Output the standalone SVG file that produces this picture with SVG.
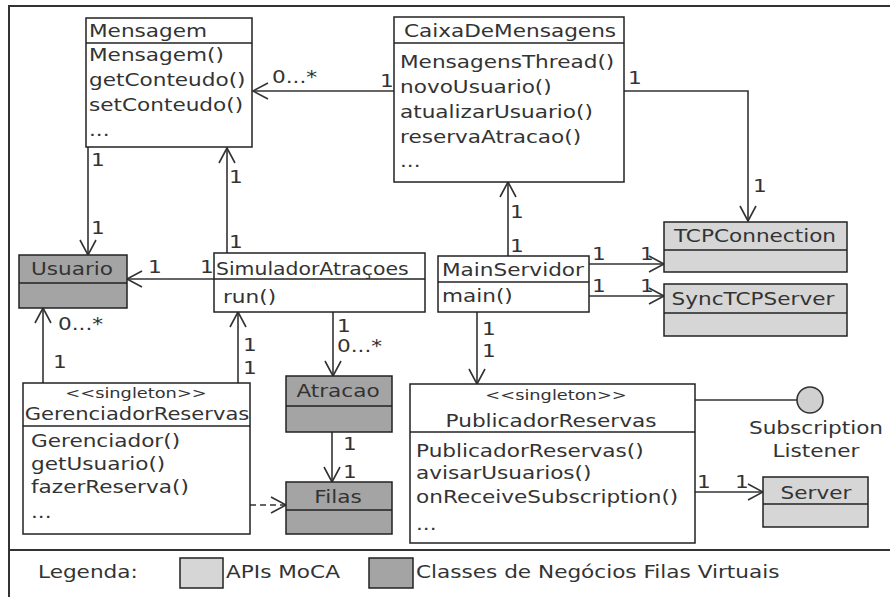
<svg xmlns="http://www.w3.org/2000/svg" width="890" height="597" viewBox="0 0 890 597">
<defs>
<style>
.t{font-family:"DejaVu Sans",Verdana,sans-serif;font-size:17px;fill:#333}
.s{font-size:14px}
.m{text-anchor:middle}
.box{fill:#fff;stroke:#222;stroke-width:1.5}
.api{fill:#d6d6d6}
.biz{fill:#a4a4a4}
.sep{stroke:#222;stroke-width:1.5}
.c{fill:none;stroke:#333;stroke-width:1.6}
.a{marker-end:url(#arr)}
.d{stroke-dasharray:6 4}
</style>
<marker id="arr" viewBox="-17 -10 20 20" refX="0" refY="0" markerWidth="20" markerHeight="20" orient="auto" markerUnits="userSpaceOnUse">
<path d="M-15,-8 L0,0 L-15,8" fill="none" stroke="#333" stroke-width="1.6"/>
</marker>
</defs>
<rect x="0" y="0" width="890" height="597" fill="#fff"/>
<rect x="9" y="6" width="895" height="600" fill="none" stroke="#333" stroke-width="2"/>

<g id="connectors">
<path class="c a" d="M394,91 L253,91"/>
<path class="c a" d="M624,91 L748,91 L748,221"/>
<path class="c a" d="M88,147 L88,255"/>
<path class="c a" d="M227,253 L227,148"/>
<path class="c a" d="M214,279 L127,279"/>
<path class="c a" d="M43,383 L43,308"/>
<path class="c a" d="M238,383 L238,312"/>
<path class="c a" d="M333,312 L333,376"/>
<path class="c a" d="M332,432 L332,482"/>
<path class="c a d" d="M250,505 L286,505"/>
<path class="c a" d="M508,256 L508,182"/>
<path class="c a" d="M589,264 L664,264"/>
<path class="c a" d="M589,296 L664,296"/>
<path class="c a" d="M477,312 L477,384"/>
<path class="c a" d="M695,492 L763,492"/>
<path class="c" d="M695,400 L797,400"/>
<g id="multiplicities">
<text class="t" transform="matrix(1.27 0 0 1 272 83)">0...*</text>
<text class="t" transform="matrix(1.27 0 0 1 380 87)">1</text>
<text class="t" transform="matrix(1.27 0 0 1 628 84)">1</text>
<text class="t" transform="matrix(1.27 0 0 1 753 192)">1</text>
<text class="t" transform="matrix(1.27 0 0 1 91 166)">1</text>
<text class="t" transform="matrix(1.27 0 0 1 91 234)">1</text>
<text class="t" transform="matrix(1.27 0 0 1 229 183)">1</text>
<text class="t" transform="matrix(1.27 0 0 1 229 248)">1</text>
<text class="t" transform="matrix(1.27 0 0 1 148 273)">1</text>
<text class="t" transform="matrix(1.27 0 0 1 200 273)">1</text>
<text class="t" transform="matrix(1.27 0 0 1 58 330)">0...*</text>
<text class="t" transform="matrix(1.27 0 0 1 53 368)">1</text>
<text class="t" transform="matrix(1.27 0 0 1 243 351)">1</text>
<text class="t" transform="matrix(1.27 0 0 1 243 374)">1</text>
<text class="t" transform="matrix(1.27 0 0 1 337 332)">1</text>
<text class="t" transform="matrix(1.27 0 0 1 337 352)">0...*</text>
<text class="t" transform="matrix(1.27 0 0 1 343 450)">1</text>
<text class="t" transform="matrix(1.27 0 0 1 343 478)">1</text>
<text class="t" transform="matrix(1.27 0 0 1 510 218)">1</text>
<text class="t" transform="matrix(1.27 0 0 1 510 252)">1</text>
<text class="t" transform="matrix(1.27 0 0 1 592 260)">1</text>
<text class="t" transform="matrix(1.27 0 0 1 640 260)">1</text>
<text class="t" transform="matrix(1.27 0 0 1 592 292)">1</text>
<text class="t" transform="matrix(1.27 0 0 1 640 292)">1</text>
<text class="t" transform="matrix(1.27 0 0 1 482 335)">1</text>
<text class="t" transform="matrix(1.27 0 0 1 482 357)">1</text>
<text class="t" transform="matrix(1.27 0 0 1 697 488)">1</text>
<text class="t" transform="matrix(1.27 0 0 1 735 488)">1</text>
</g>
</g>

<g id="Mensagem">
<rect class="box" x="86" y="18" width="166" height="129"/>
<line class="sep" x1="86" y1="43" x2="252" y2="43"/>
<text class="t" transform="matrix(1.27 0 0 1 89 37)">Mensagem</text>
<text class="t" transform="matrix(1.27 0 0 1 89 61)">Mensagem()</text>
<text class="t" transform="matrix(1.27 0 0 1 89 86)">getConteudo()</text>
<text class="t" transform="matrix(1.27 0 0 1 89 111)">setConteudo()</text>
<text class="t" transform="matrix(1.27 0 0 1 89 136)">...</text>
</g>

<g id="CaixaDeMensagens">
<rect class="box" x="394" y="17" width="230" height="165"/>
<line class="sep" x1="394" y1="43" x2="624" y2="43"/>
<text class="t m" transform="matrix(1.27 0 0 1 510 37)">CaixaDeMensagens</text>
<text class="t" transform="matrix(1.27 0 0 1 400 68)">MensagensThread()</text>
<text class="t" transform="matrix(1.27 0 0 1 400 93)">novoUsuario()</text>
<text class="t" transform="matrix(1.27 0 0 1 400 118)">atualizarUsuario()</text>
<text class="t" transform="matrix(1.27 0 0 1 400 143)">reservaAtracao()</text>
<text class="t" transform="matrix(1.27 0 0 1 400 167)">...</text>
</g>

<g id="TCPConnection">
<rect class="box api" x="664" y="222" width="183" height="50"/>
<line class="sep" x1="664" y1="250" x2="847" y2="250"/>
<text class="t m" transform="matrix(1.27 0 0 1 755 242)">TCPConnection</text>
</g>

<g id="SyncTCPServer">
<rect class="box api" x="664" y="284" width="183" height="52"/>
<line class="sep" x1="664" y1="313" x2="847" y2="313"/>
<text class="t m" transform="matrix(1.27 0 0 1 753 305)">SyncTCPServer</text>
</g>

<g id="Usuario">
<rect class="box biz" x="19" y="255" width="108" height="53"/>
<line class="sep" x1="19" y1="283" x2="127" y2="283"/>
<text class="t m" transform="matrix(1.27 0 0 1 72 275)">Usuario</text>
</g>

<g id="SimuladorAtracoes">
<rect class="box" x="214" y="253" width="211" height="59"/>
<line class="sep" x1="214" y1="279" x2="425" y2="279"/>
<text class="t" transform="matrix(1.2 0 0 1 216 275)">SimuladorAtraçoes</text>
<text class="t" transform="matrix(1.27 0 0 1 223 303)">run()</text>
</g>

<g id="MainServidor">
<rect class="box" x="438" y="256" width="151" height="56"/>
<line class="sep" x1="438" y1="282" x2="589" y2="282"/>
<text class="t" transform="matrix(1.27 0 0 1 442 276)">MainServidor</text>
<text class="t" transform="matrix(1.27 0 0 1 442 302)">main()</text>
</g>

<g id="Atracao">
<rect class="box biz" x="286" y="376" width="106" height="56"/>
<line class="sep" x1="286" y1="406" x2="392" y2="406"/>
<text class="t m" transform="matrix(1.27 0 0 1 338 397)">Atracao</text>
</g>

<g id="Filas">
<rect class="box biz" x="286" y="482" width="106" height="52"/>
<line class="sep" x1="286" y1="510" x2="392" y2="510"/>
<text class="t m" transform="matrix(1.27 0 0 1 338 503)">Filas</text>
</g>

<g id="GerenciadorReservas">
<rect class="box" x="23" y="383" width="227" height="151"/>
<line class="sep" x1="23" y1="426" x2="250" y2="426"/>
<text class="t s m" transform="matrix(1.27 0 0 1 136 398)">&lt;&lt;singleton&gt;&gt;</text>
<text class="t m" transform="matrix(1.24 0 0 1 137 420)">GerenciadorReservas</text>
<text class="t" transform="matrix(1.27 0 0 1 31 447)">Gerenciador()</text>
<text class="t" transform="matrix(1.27 0 0 1 31 470)">getUsuario()</text>
<text class="t" transform="matrix(1.27 0 0 1 31 493)">fazerReserva()</text>
<text class="t" transform="matrix(1.27 0 0 1 31 518)">...</text>
</g>

<g id="PublicadorReservas">
<rect class="box" x="410" y="384" width="285" height="159"/>
<line class="sep" x1="410" y1="432" x2="695" y2="432"/>
<text class="t s m" transform="matrix(1.27 0 0 1 556 400)">&lt;&lt;singleton&gt;&gt;</text>
<text class="t m" transform="matrix(1.27 0 0 1 551 427)">PublicadorReservas</text>
<text class="t" transform="matrix(1.27 0 0 1 416 457)">PublicadorReservas()</text>
<text class="t" transform="matrix(1.27 0 0 1 416 479)">avisarUsuarios()</text>
<text class="t" transform="matrix(1.27 0 0 1 416 503)">onReceiveSubscription()</text>
<text class="t" transform="matrix(1.27 0 0 1 416 530)">...</text>
</g>

<g id="SubscriptionListener">
<circle cx="810" cy="400" r="13" fill="#d0d0d0" stroke="#333" stroke-width="1.6"/>
<text class="t m" transform="matrix(1.27 0 0 1 816 434)">Subscription</text>
<text class="t m" transform="matrix(1.27 0 0 1 816 457)">Listener</text>
</g>

<g id="Server">
<rect class="box api" x="763" y="477" width="105" height="50"/>
<line class="sep" x1="763" y1="504" x2="868" y2="504"/>
<text class="t m" transform="matrix(1.27 0 0 1 816 499)">Server</text>
</g>

<g id="legend">
<line x1="9" y1="550" x2="890" y2="550" stroke="#333" stroke-width="2"/>
<text class="t" transform="matrix(1.27 0 0 1 38 578)">Legenda:</text>
<rect class="box api" x="180" y="558" width="43" height="30"/>
<text class="t" transform="matrix(1.27 0 0 1 226 578)">APIs MoCA</text>
<rect class="box biz" x="369" y="558" width="44" height="30"/>
<text class="t" transform="matrix(1.27 0 0 1 416 578)">Classes de Negócios Filas Virtuais</text>
</g>
</svg>
